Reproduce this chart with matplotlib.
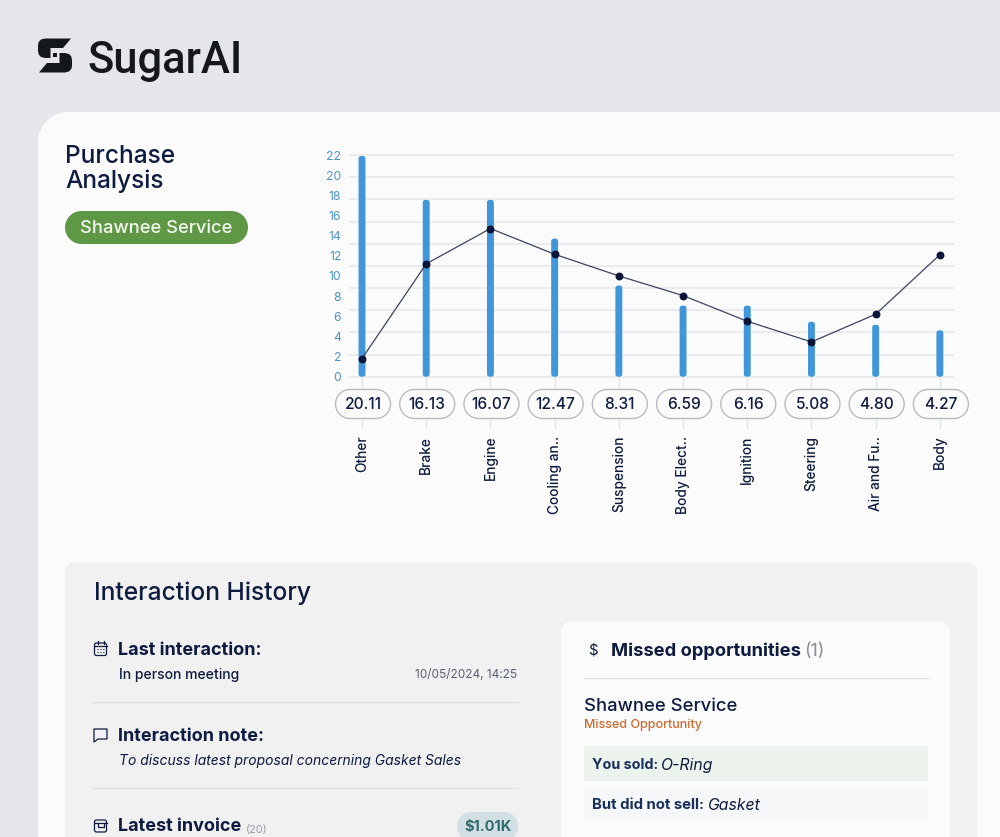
import matplotlib
matplotlib.use("Agg")
import numpy as np
import matplotlib.pyplot as plt
from matplotlib.patches import Polygon, Rectangle

plt.rcParams['font.family'] = ['Inter', 'DejaVu Sans']

categories = ['Other', 'Brake', 'Engine', 'Cooling an..', 'Suspension',
              'Body Elect..', 'Ignition', 'Steering', 'Air and Fu..', 'Body']
pill_labels = ['20.11', '16.13', '16.07', '12.47', '8.31',
               '6.59', '6.16', '5.08', '4.80', '4.27']
bar_values = [21.9, 17.55, 17.55, 13.7, 9.05, 7.05, 7.05, 5.45, 5.15, 4.6]
line_values = [1.8, 11.2, 14.7, 12.15, 10.0, 8.05, 5.5, 3.45, 6.2, 12.1]
y_tick_labels = [0, 2, 4, 6, 8, 10, 12, 14, 16, 18, 20, 22]
grid_levels = [0, 2.2, 4.4, 6.6, 8.8, 11, 13.2, 15.4, 17.6, 19.8, 22]

W, H = 1000, 837
NAVY = '#0d1b3e'
CARD = '#fbfbfc'
fig = plt.figure(figsize=((W + 0.01) / 100, (H + 0.01) / 100), dpi=100, facecolor='#e4e6e9')
px = lambda p: p * 0.72


def axes_px(x0, y0, x1, y1, **kw):
    return fig.add_axes([x0 / W, 1 - y1 / H, (x1 - x0) / W, (y1 - y0) / H], **kw)


bg = axes_px(0, 0, W, H, zorder=0)
bg.set_xlim(0, W); bg.set_ylim(H, 0); bg.axis('off')


def rbox(a, x0, y0, x1, y1, r, fc, ec='none', lw=0, z=1):
    pts = []
    for cx, cy, start in [(x1 - r, y0 + r, -90), (x1 - r, y1 - r, 0),
                          (x0 + r, y1 - r, 90), (x0 + r, y0 + r, 180)]:
        th = np.radians(np.linspace(start, start + 90, 16))
        pts.extend(zip(cx + r * np.cos(th), cy + r * np.sin(th)))
    a.add_patch(Polygon(pts, closed=True, fc=fc, ec=ec, lw=lw, zorder=z))


def txt(a, x, y, s, size, weight='normal', color=NAVY, style='normal', ha='left', va='center', **kw):
    # centre on the x-height band rather than on the box with descenders
    dy = size * 0.07 if va == 'center' else 0
    return a.text(x, y + dy, s, fontsize=px(size), fontweight=weight, color=color,
                  fontstyle=style, ha=ha, va=va, zorder=5, **kw)


# card and panels
rbox(bg, 38, 112, 1040, 900, 30, CARD)
rbox(bg, 65, 562, 977, 900, 10, '#f1f1f2', z=2)
rbox(bg, 561, 622, 950, 900, 10, CARD, z=3)

# logo
logo = '#14171c'
piece = [(45, 38.5), (71, 38.5), (63, 48), (50.5, 48), (50.5, 58), (45, 58), (41, 57), (38.7, 54.5),
         (38, 51), (38, 45), (38.7, 42), (41, 39.5)]
for p in (piece, [(110 - x, 111 - y) for x, y in piece]):
    bg.add_patch(Polygon(p, closed=True, fc=logo, ec='none', zorder=4))
bg.add_patch(Rectangle((53, 53.5), 4, 4, fc=logo, ec='none', zorder=4))
txt(bg, 87, 72.7, 'SugarAI', 43.6, weight=500, color=logo, va='baseline', family=['Roboto', 'DejaVu Sans'])

# heading
txt(bg, 65, 155, 'Purchase', 24.5, weight=500)
txt(bg, 65, 180, 'Analysis', 24.5, weight=500)
rbox(bg, 65, 211, 248, 244, 16.5, '#5f9845', z=4)
txt(bg, 156.5, 227.5, 'Shawnee Service', 18.3, weight=500, color='#f4f8f0', ha='center')

# chart
ax = axes_px(349, 155, 954, 376.7, zorder=2)
ax.patch.set_alpha(0)
xs = list(range(len(categories)))
ax.set_xlim(-0.2025, 9.22)
ax.set_ylim(0, 22)
for s in ax.spines.values():
    s.set_visible(False)
ax.hlines(grid_levels, -0.2025, 9.22, color='#e5e7e8', lw=1.1, zorder=1, clip_on=False)
bar_lw = 5.0
cap = (bar_lw / 2) / (221.7 / 22)
ax.bar(xs, [v - 2 * cap for v in bar_values], bottom=cap, width=0.03,
       color='#4096d8', edgecolor='#4096d8', linewidth=px(bar_lw), joinstyle='round',
       snap=False, zorder=2)
ax.plot(xs, line_values, color='#3b4560', lw=0.9, marker='o', ms=px(6.5),
        mfc='#0a1438', mec='#0a1438', zorder=3)
ax.set_yticks(y_tick_labels, [str(t) for t in y_tick_labels])
ax.tick_params(axis='y', length=0, pad=5.5, labelsize=px(12.3), labelcolor='#4f93c4')
ax.set_xticks(xs, categories, rotation=90, fontsize=px(13.7), fontweight=500, color=NAVY)
ax.tick_params(axis='x', length=px(52), width=1, color='#dfe6ea', pad=px(7))
for lab in ax.get_xticklabels():
    lab.set_va('top')
    lab.set_ha('center')

# value pills
top = axes_px(0, 0, W, H, zorder=3)
top.set_xlim(0, W); top.set_ylim(H, 0); top.axis('off')
fig.canvas.draw()
for i, lab in zip(xs, pill_labels):
    cx = ax.transData.transform((i, 0))[0] + 1
    rbox(top, cx - 27.5, 389.5, cx + 27.5, 418.5, 14.5, CARD, ec='#b9bcbe', lw=1, z=4)
    txt(top, cx, 403.5, lab, 15.5, weight=500, ha='center')

# interaction history
txt(bg, 94, 592, 'Interaction History', 24.6, weight=500)


def icon_box(x0, y0, x1, y1, r=2):
    rbox(bg, x0, y0, x1, y1, r, 'none', ec=NAVY, lw=0.9, z=4)


# calendar icon
icon_box(94.5, 643, 106.5, 655.5)
bg.plot([94.5, 106.5], [646.5, 646.5], color=NAVY, lw=0.9, zorder=4)
bg.plot([97.5, 97.5], [641.5, 644], color=NAVY, lw=0.9, zorder=4)
bg.plot([103.5, 103.5], [641.5, 644], color=NAVY, lw=0.9, zorder=4)
for dy in (649.5, 652.5):
    bg.plot([97, 104], [dy, dy], color=NAVY, lw=0.8, ls=(0, (1, 1.6)), zorder=4)
txt(bg, 118, 649, 'Last interaction:', 18, weight=700)
txt(bg, 119, 674, 'In person meeting', 14, weight=500)
txt(bg, 517, 674, '10/05/2024, 14:25', 11.9, color='#596173', ha='right')
bg.plot([92, 518], [702, 702], color='#e0e1e3', lw=1.0, zorder=4)

# note icon
bg.add_patch(Polygon([(94, 729), (107, 729), (107, 739), (98, 739), (94, 742)], closed=True,
                     fc='none', ec=NAVY, lw=0.9, joinstyle='round', zorder=4))
txt(bg, 118, 735, 'Interaction note:', 18, weight=700)
txt(bg, 119, 760, 'To discuss latest proposal concerning Gasket Sales', 13.9, style='italic')
bg.plot([92, 518], [788, 788], color='#e0e1e3', lw=1.0, zorder=4)

# invoice icon
icon_box(94.5, 820, 106.5, 832)
bg.plot([94.5, 106.5], [823, 823], color=NAVY, lw=0.9, zorder=4)
bg.plot([97.5, 97.5, 103.5, 103.5], [823, 827, 827, 823], color=NAVY, lw=0.9, zorder=4)
txt(bg, 118, 825.5, 'Latest invoice', 18, weight=700)
txt(bg, 246, 829, '(20)', 11, color='#9a9ea5')
rbox(bg, 457, 812, 518, 841, 14, '#d3e0e3', z=4)
txt(bg, 487.5, 825.5, '$1.01K', 14.6, weight=700, color='#2f6b6b', ha='center')

# missed opportunities
txt(bg, 593, 649, '$', 15, ha='center')
txt(bg, 611, 649.5, 'Missed opportunities', 18.3, weight=700)
txt(bg, 804, 650, '(1)', 18, color='#8a8f96')
bg.plot([584, 928], [678.5, 678.5], color='#e0e1e3', lw=1.0, zorder=4)
txt(bg, 584, 705, 'Shawnee Service', 18.4, weight=500)
txt(bg, 584, 724.5, 'Missed Opportunity', 12.5, weight=500, color='#d2682b')
bg.add_patch(Rectangle((584, 746), 344, 35, fc='#ecf2ec', ec='none', zorder=4))
bg.add_patch(Rectangle((584, 787), 344, 34, fc='#f6f7f8', ec='none', zorder=4))
txt(bg, 592, 764, 'You sold:', 14.4, weight=700, color='#17305a')
txt(bg, 661, 764, 'O-Ring', 15.8, style='italic')
txt(bg, 592, 804, 'But did not sell:', 14.9, weight=700, color='#17305a')
txt(bg, 708, 804, 'Gasket', 15.8, style='italic')

fig.savefig('out.png', dpi=100, facecolor=fig.get_facecolor())
